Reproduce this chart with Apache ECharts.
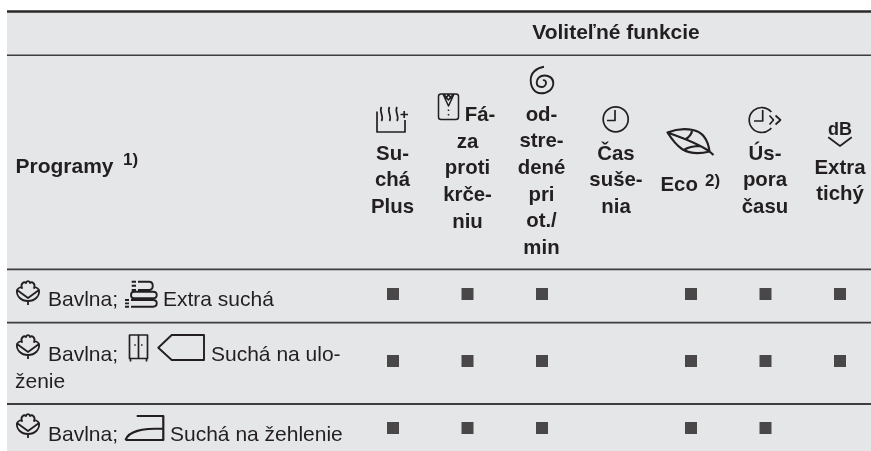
<!DOCTYPE html>
<html><head><meta charset="utf-8">
<style>html,body{margin:0;padding:0;background:#fff}#c{width:871px;height:451px}</style>
<script src="https://cdn.jsdelivr.net/npm/echarts@6/dist/echarts.min.js"></script></head>
<body><div id="c"></div>
<script>
const title = "Voliteľné funkcie";
const rowHeader = "Programy";
const rowHeaderNote = "1)";
const columns = ["Suchá Plus","Fáza proti krčeniu","odstredené pri ot./min","Čas sušenia","Eco","Úspora času","Extra tichý"];
const rows = ["Extra suchá","Suchá na uloženie","Suchá na žehlenie"];
const marks = [
  [1,1,1,0,1,1,1],
  [1,1,1,0,1,1,1],
  [1,1,1,0,1,1,0]
];
const ink = "#231f20", panel = "#e5e6e8", rule = "#3d3c3e";
const font = '"Liberation Sans", Arial, sans-serif';
const H = 21, B = 20.4, R = 21;

const points = [];
marks.forEach((r,y)=>r.forEach((m,x)=>{ if(m) points.push([columns[x],rows[y]]); }));

function txt(s,x,base,size,bold,align,lh){
  lh = lh||26.67;
  return {type:'text',x:x,y:base-lh/2-size*0.25,z:10,silent:true,style:{text:s,fill:ink,font:(bold?'bold ':'')+size+'px '+font,textAlign:align||'left',textVerticalAlign:'top',verticalAlign:'top',lineHeight:lh}};
}
function ic(d,w,x,y){
  return {type:'path',x:x||0,y:y||0,shape:{pathData:d},style:{stroke:ink,lineWidth:w,fill:null,lineJoin:'round'}};
}
function hline(y,w,c){
  return {type:'line',z:5,silent:true,shape:{x1:7,y1:y,x2:871,y2:y},style:{stroke:c||rule,lineWidth:w}};
}
const cotton = "M-11,9 C-9,6 -7,6 -6,7 C-8,3 -4,0 -2,2 C-1,-0.5 1,-0.5 2,2 C4,0 8,3 6,7 C7,6 9,6 11,9 C12,15 7,20 0,20 C-7,20 -12,15 -11,9 Z M-11,9 L0,17 L11,9 M0,20 V24";

const icons = [
  ic("M377,111.5 V132 H405 V120 M381.5,107 C378.5,112 384.5,116 381.5,121 M389.5,107 C386.5,112 392.5,116 389.5,121 M397,107 C394,112 400,116 397,121 M400.5,114.5 H408 M404.2,111 V118",1.7),
  ic("M441,94 H456 Q458.5,94 458.5,96.5 V117 Q458.5,119.5 456,119.5 H441 Q438.5,119.5 438.5,117 V96.5 Q438.5,94 441,94 Z M443,94 L448.5,106 L454,94 M444,94.5 L448.5,100 L453,94.5 M445,100 L448.5,94.5 L452,100 M448.5,109.5 V111 M448.5,114 V115.5",1.5),
  ic("M544,66.7 C536,68 530.7,73 530.7,80 C530.7,88 535,93.3 541,93.3 C548,93.3 553.3,89 553.3,83 C553.3,78 549,75.5 544.5,75.5 C540,75.5 536.7,78.5 536.7,82.5 C536.7,85.5 539,87 541.5,87 C544,87 546,85 546,82.7 C546,80.5 544,79.8 543,80.5",1.9),
  ic("M603.2,119.3 A12.5,12.5 0 1 1 628.2,119.3 A12.5,12.5 0 1 1 603.2,119.3 Z M615,110 V120.5 H607",1.7),
  ic("M667.5,132.5 C676,129 686,128.5 693,130 C703,132 708,140 709.5,151.5 C700,154 690,154 682,149 C676,145 671,138 667.5,132.5 Z M667.5,132.5 C680,137 698,143 709.5,151.5 L713.5,155 M692,130 C692,134 689,137 686,139 M701,146 C696,146 688,147 684,150",2.2),
  ic("M771.3,112 A12.5,12.5 0 1 0 771.3,128 M762.7,110 V121 H754 M769.5,115.5 L773.5,120 L769.5,124.5 M775.5,115.5 L780.5,120 L775.5,124.5",1.7),
  ic("M828.3,137.3 L840,146 L851.7,137.3",1.7),
  ic(cotton,1.8,28,281), ic(cotton,1.8,28,335), ic(cotton,1.8,28,414),
  ic("M138,281.7 H149 C154,281.7 154,290 149,290 H138 M131.7,281.7 H136 M131.7,285.7 H136 M131.7,290 H136 M134,291.7 H153 C158,291.7 158,298.3 153,298.3 H134 C130,298.3 130,291.7 134,291.7 Z M131,300 H153 C158,300 158,306.7 153,306.7 H131 M125,300 H129 M125,303.4 H129 M125,306.7 H129",1.9),
  ic("M129.5,335 H147.5 V358.5 H129.5 Z M138.5,335 V358.5 M130.5,358.5 V361.5 M146.5,358.5 V361.5 M134.3,345 H135.8 M141,345 H142.5",1.7),
  ic("M158.3,347.7 L171.7,335 H204 V360 H171.7 Z",1.9),
  ic("M125.5,440 C129,431 141,428.5 163.3,428.5 M136.7,416 H163.3 V440 H125.5",2.2)
];

const g = [
  {type:'rect',z:1,silent:true,shape:{x:7,y:11,width:864,height:440},style:{fill:panel}},
  hline(11.5,2.6,'#2b2a2b'), hline(55.3,1.6), hline(269.3,1.8), hline(322.7,1.8), hline(404,1.8),
  txt(title,616,38,H,true,'center'),
  txt(rowHeader,15.5,172,H,true),
  txt(rowHeaderNote,123,165,17,true),
  txt("Su-\nchá\nPlus",392.5,159,B,true,'center'),
  txt("Fá-",480,120,B,true,'center'),
  txt("za\nproti\nkrče-\nniu",467.5,147.3,B,true,'center'),
  txt("od-\nstre-\ndené\npri\not./\nmin",541.5,120,B,true,'center'),
  txt("Čas\nsuše-\nnia",616,159,B,true,'center'),
  txt("Eco",660.5,190.7,B,true),
  txt("2)",705,185.5,17,true),
  txt("Ús-\npora\nčasu",765,159.3,B,true,'center'),
  txt("Extra\ntichý",840,173.3,B,true,'center'),
  txt("dB",840,135,18,true,'center'),
  txt("Bavlna;",48,305.7,R),
  txt("Extra suchá",163,305.7,R),
  txt("Bavlna;",48,360.7,R),
  txt("Suchá na ulo-",211,360.7,R),
  txt("ženie",15,387.3,R),
  txt("Bavlna;",48,440.5,R),
  txt("Suchá na žehlenie",170,440.5,R)
];

const chart = echarts.init(document.getElementById('c'),null,{renderer:'canvas'});
chart.setOption({
  animation:false,
  backgroundColor:'#ffffff',
  grid:{left:393,right:31,top:294,bottom:23},
  xAxis:{type:'category',data:columns,boundaryGap:false,show:false},
  yAxis:{type:'category',data:rows,boundaryGap:false,inverse:true,show:false},
  series:[
    {type:'scatter',data:points,symbol:'rect',symbolSize:12,z:6,silent:true,itemStyle:{color:ink}},
    {type:'custom',coordinateSystem:'none',silent:true,z:7,data:[0],
     renderItem:()=>({type:'group',children:icons})}
  ],
  graphic:{elements:g}
});
</script></body></html>
